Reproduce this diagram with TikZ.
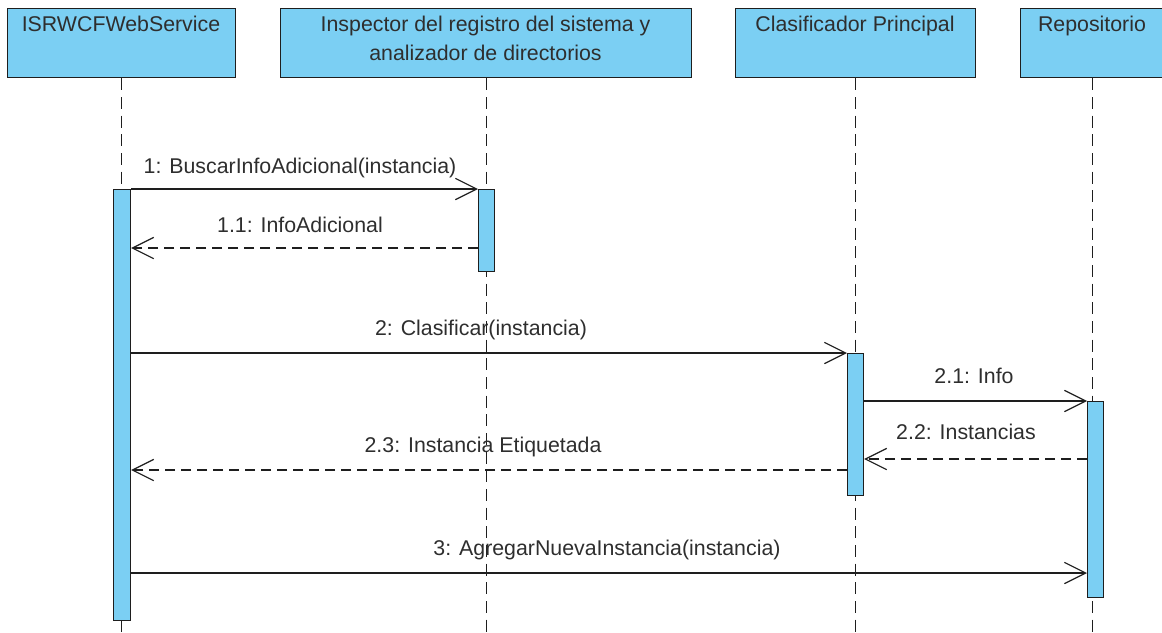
\documentclass[tikz,border=0pt]{standalone}
\usepackage{fontspec}
\setmainfont{Liberation Sans}
\usetikzlibrary{arrows.meta}
\definecolor{boxfill}{HTML}{7BCFF3}
\definecolor{ink}{HTML}{1E1E1E}
\definecolor{txt}{HTML}{2E2E2E}
\tikzset{
  header/.style={draw=ink, line width=1pt, fill=boxfill, rectangle, inner sep=0pt, anchor=north west},
  act/.style={draw=ink, line width=0.8pt, fill=boxfill, rectangle, inner sep=0pt, anchor=north west},
  lifeline/.style={draw=ink, line width=0.9pt, dash pattern=on 9pt off 5pt},
  msgtext/.style={text=txt, font=\fontsize{16}{19}\selectfont, inner sep=0pt, anchor=base},
  call/.style={draw=ink, line width=0.9pt, -{Straight Barb[length=16pt, width=16pt, line width=0.9pt]}},
  reply/.style={call, dash pattern=on 7.5pt off 4.5pt}
}
\begin{document}
\begin{tikzpicture}[x=0.75pt, y=-0.75pt]
  \useasboundingbox (0,0) rectangle (1162,632);
  \begin{scope}
  \clip (0,0) rectangle (1162,632);
  % participant heads
  \node[header, minimum width=171pt, minimum height=51.75pt] (h1) at (7,8) {};
  \node[header, minimum width=308.25pt, minimum height=51.75pt] (h2) at (280,8) {};
  \node[header, minimum width=180pt, minimum height=51.75pt] (h3) at (735,8) {};
  \node[header, minimum width=108pt, minimum height=51.75pt] (h4) at (1020,8) {};
  \node[msgtext] (t1) at (121,31.5) {ISRWCFWebService};
  \node[msgtext] (t2a) at (485.5,31.5) {Inspector del registro del sistema y};
  \node[msgtext] (t2b) at (485.5,60) {analizador de directorios};
  \node[msgtext] (t3) at (855,31.5) {Clasificador Principal};
  \node[msgtext] (t4) at (1092,31.5) {Repositorio};
  % lifelines
  \draw[lifeline] (h1.south) -- (h1.south |- 0,632);
  \draw[lifeline] (h2.south) -- (h2.south |- 0,632);
  \draw[lifeline] (h3.south) -- (h3.south |- 0,632);
  \draw[lifeline] (h4.south) -- (h4.south |- 0,632);
  % activations
  \node[act, minimum width=12.75pt, minimum height=323.25pt] (a1) at (113,189) {};
  \node[act, minimum width=12pt, minimum height=61.5pt] (a2) at (478,189) {};
  \node[act, minimum width=12pt, minimum height=106.5pt] (a3) at (847,353) {};
  \node[act, minimum width=12pt, minimum height=147pt] (a4) at (1087,401) {};
  % messages
  \draw[call] (a1.east |- 0,189) -- (a2.west |- 0,189);
  \node[msgtext] (m1) at (300,173) {1: BuscarInfoAdicional(instancia)};
  \draw[reply] (a2.west |- 0,248) -- (a1.east |- 0,248);
  \node[msgtext] (m11) at (300,232) {1.1: InfoAdicional};
  \draw[call] (a1.east |- 0,353) -- (a3.west |- 0,353);
  \node[msgtext] (m2) at (481,335) {2: Clasificar(instancia)};
  \draw[call] (a3.east |- 0,401) -- (a4.west |- 0,401);
  \node[msgtext] (m21) at (974,383) {2.1: Info};
  \draw[reply] (a4.west |- 0,459) -- (a3.east |- 0,459);
  \node[msgtext] (m22) at (966,439) {2.2: Instancias};
  \draw[reply] (a3.west |- 0,470) -- (a1.east |- 0,470);
  \node[msgtext] (m23) at (483,452) {2.3: Instancia Etiquetada};
  \draw[call] (a1.east |- 0,573) -- (a4.west |- 0,573);
  \node[msgtext] (m3) at (607,555) {3: AgregarNuevaInstancia(instancia)};
  \end{scope}
\end{tikzpicture}
\end{document}
